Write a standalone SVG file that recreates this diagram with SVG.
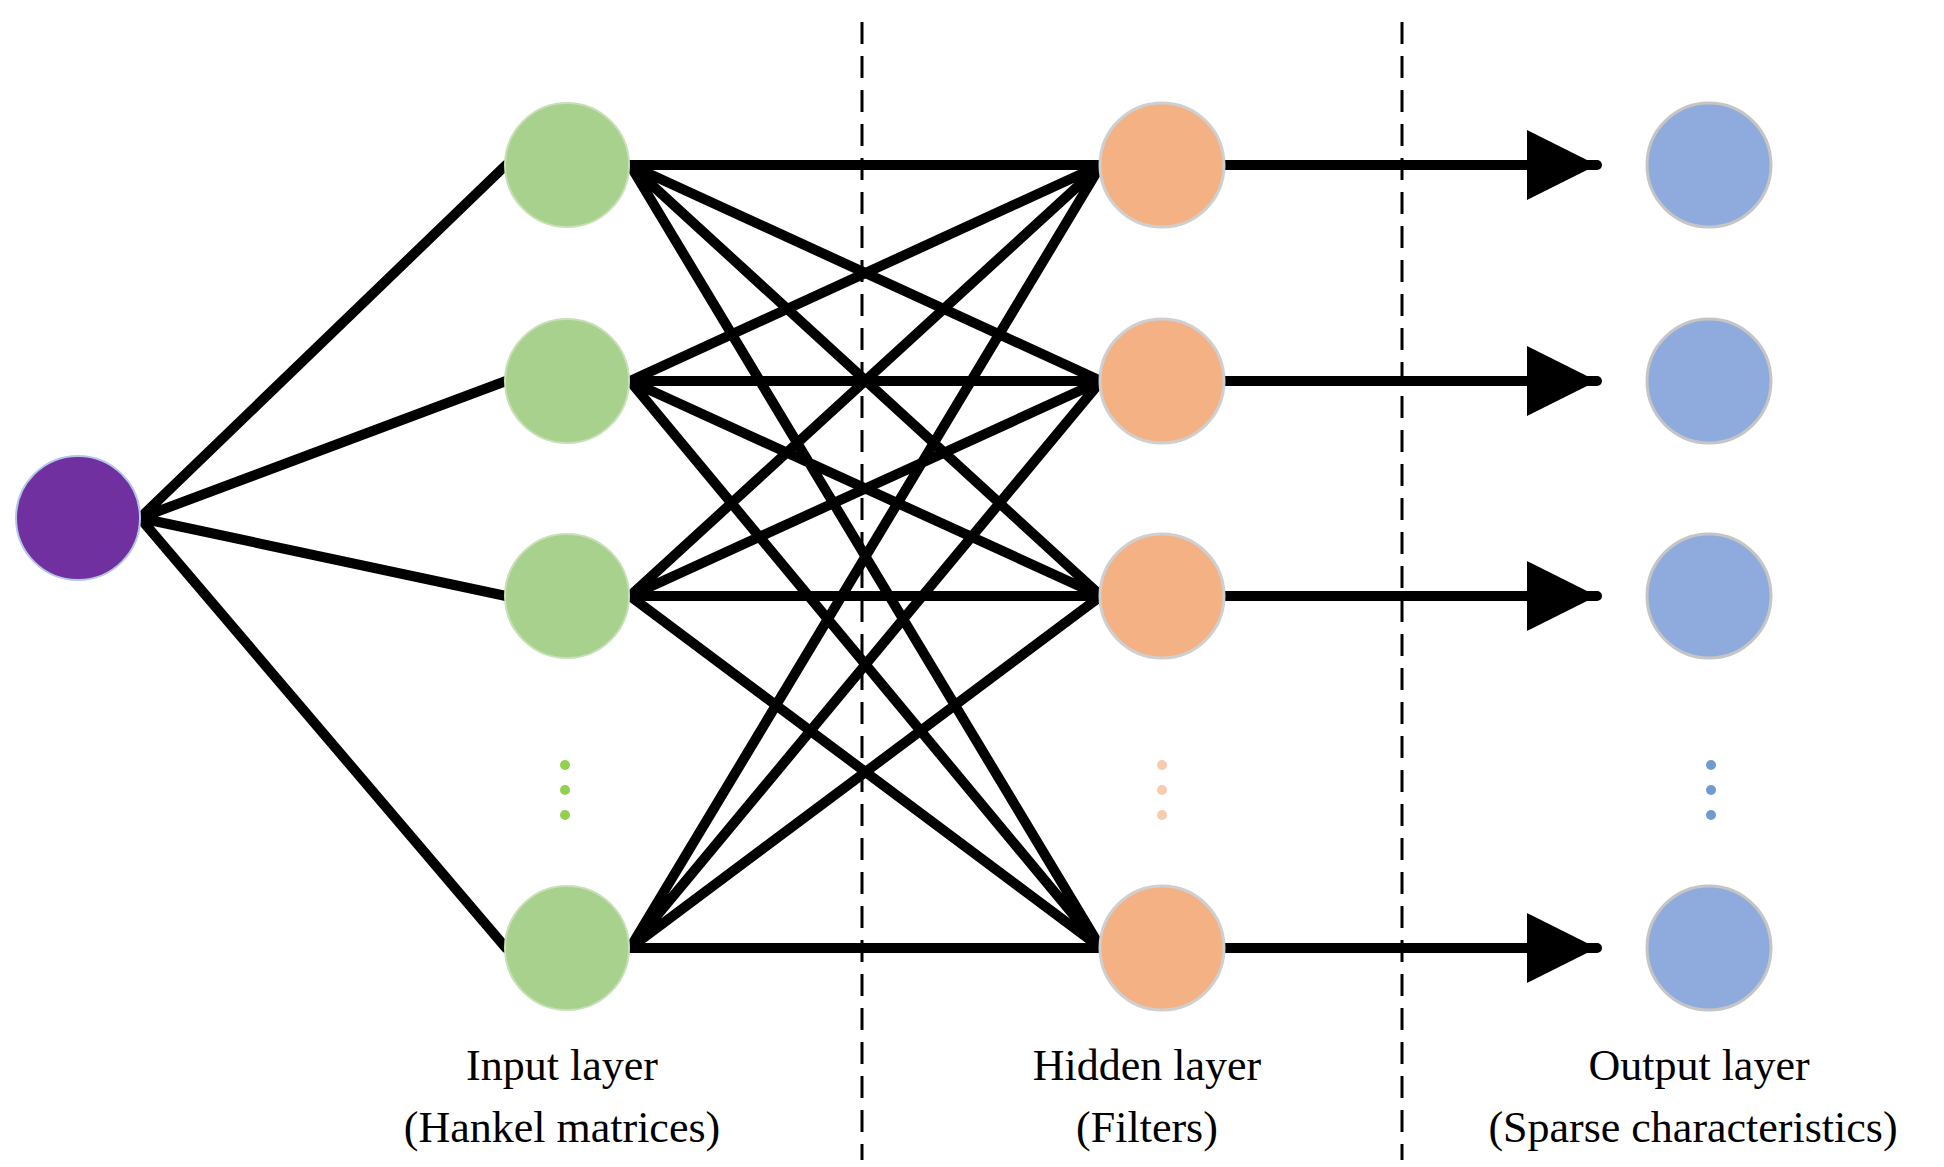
<svg xmlns="http://www.w3.org/2000/svg" width="1944" height="1167" viewBox="0 0 1944 1167">
<style>
.e{stroke:#000;stroke-width:10;stroke-linecap:round;fill:none}
.d{stroke:#000;stroke-width:3;stroke-dasharray:22,12}
.g{fill:#a9d18e;stroke:#c9dfb8;stroke-width:2}
.o{fill:#f4b183;stroke:#cfcfcf;stroke-width:3}
.b{fill:#8faadc;stroke:#c5c5c5;stroke-width:3}
text{font-family:"Liberation Serif",serif;font-size:44px;text-anchor:middle;fill:#000}
</style>
<defs><marker id="a" markerWidth="8" markerHeight="8" refX="7" refY="3.5" orient="auto" markerUnits="strokeWidth"><path d="M0,0L7,3.5L0,7z" fill="#000"/></marker></defs>
<g id="dividers"><line class="d" x1="862" y1="22" x2="862" y2="1160"/><line class="d" x1="1402" y1="22" x2="1402" y2="1160"/></g>
<g id="connectors">
<path class="e" d="M140,518L506,165M140,518L506,381M140,518L506,596M140,518L506,948"/>
<path class="e" d="M630,165L1101,165M630,165L1101,381M630,165L1101,596M630,165L1101,948
M630,381L1101,165M630,381L1101,381M630,381L1101,596M630,381L1101,948
M630,596L1101,165M630,596L1101,381M630,596L1101,596M630,596L1101,948
M630,948L1101,165M630,948L1101,381M630,948L1101,596M630,948L1101,948"/>
<g class="e" marker-end="url(#a)"><line x1="1224" y1="165" x2="1597" y2="165"/><line x1="1224" y1="381" x2="1597" y2="381"/><line x1="1224" y1="596" x2="1597" y2="596"/><line x1="1224" y1="948" x2="1597" y2="948"/></g>
</g>
<g id="source"><circle cx="78" cy="518" r="62" fill="#7030a0" stroke="#b4c7e7" stroke-width="2"/></g>
<g id="input"><circle class="g" cx="567" cy="165" r="62"/><circle class="g" cx="567" cy="381" r="62"/><circle class="g" cx="567" cy="596" r="62"/><circle class="g" cx="567" cy="948" r="62"/>
<g fill="#92d050"><circle cx="565" cy="765" r="5"/><circle cx="565" cy="790" r="5"/><circle cx="565" cy="815" r="5"/></g>
<text x="562" y="1080">Input layer</text><text x="562" y="1142">(Hankel matrices)</text></g>
<g id="hidden"><circle class="o" cx="1162" cy="165" r="62"/><circle class="o" cx="1162" cy="381" r="62"/><circle class="o" cx="1162" cy="596" r="62"/><circle class="o" cx="1162" cy="948" r="62"/>
<g fill="#f8cbad"><circle cx="1162" cy="765" r="5"/><circle cx="1162" cy="790" r="5"/><circle cx="1162" cy="815" r="5"/></g>
<text x="1147" y="1080">Hidden layer</text><text x="1147" y="1142">(Filters)</text></g>
<g id="output"><circle class="b" cx="1709" cy="165" r="62"/><circle class="b" cx="1709" cy="381" r="62"/><circle class="b" cx="1709" cy="596" r="62"/><circle class="b" cx="1709" cy="948" r="62"/>
<g fill="#6f9bd1"><circle cx="1711" cy="765" r="5"/><circle cx="1711" cy="790" r="5"/><circle cx="1711" cy="815" r="5"/></g>
<text x="1699" y="1080">Output layer</text><text x="1693" y="1142">(Sparse characteristics)</text></g>
</svg>
